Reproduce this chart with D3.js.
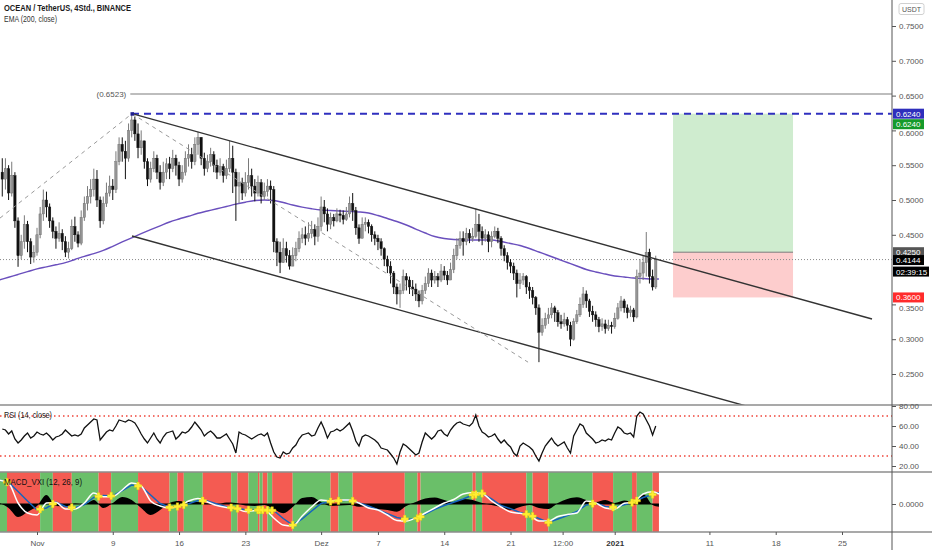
<!DOCTYPE html>
<html><head><meta charset="utf-8">
<script src="https://cdn.jsdelivr.net/npm/d3@7"></script>
<style>
html,body{margin:0;padding:0;background:#fff;}
svg{display:block;font-family:"Liberation Sans",Arial,sans-serif;}
</style></head><body>
<svg id="c" width="932" height="550"></svg>
<script>
// ---------- DATA ----------
// 8h candles starting 2020-10-28 08:00 UTC
const firstOpen = 0.540;
const closes = [
.530,.545,.510,.535,.470,.420,.440,.465,.440,.418,
.425,.450,.480,.500,.490,.470,.455,.445,.452,.440,
.425,.430,.462,.450,.438,.475,.495,.505,.515,.530,
.500,.470,.495,.510,.520,.515,.555,.580,.570,.560,
.600,.615,.595,.575,.585,.555,.530,.545,.560,.540,
.525,.540,.552,.545,.560,.550,.530,.540,.560,.565,
.555,.580,.590,.560,.545,.555,.565,.550,.540,.548,
.535,.545,.560,.540,.520,.525,.510,.525,.535,.520,
.510,.525,.505,.512,.520,.515,.440,.425,.410,.430,
.420,.405,.420,.430,.445,.450,.445,.452,.458,.448,
.462,.490,.480,.465,.475,.470,.480,.478,.472,.480,
.495,.485,.460,.445,.465,.468,.462,.450,.445,.440,
.430,.415,.405,.395,.375,.365,.370,.390,.385,.375,
.372,.365,.355,.370,.380,.395,.385,.390,.385,.398,
.392,.385,.400,.420,.435,.445,.440,.452,.445,.448,
.465,.455,.445,.450,.440,.448,.455,.445,.430,.420,
.410,.405,.395,.380,.385,.390,.375,.370,.360,.345,
.310,.320,.330,.335,.345,.338,.325,.322,.328,.320,
.300,.325,.335,.350,.365,.355,.340,.335,.328,.318,
.322,.315,.320,.318,.330,.345,.355,.345,.338,.342,
.332,.390,.395,.410,.425,.390,.375,.4144];
const highs = [
.560,.560,.550,.555,.540,.475,.450,.478,.470,.445,
.435,.460,.490,.515,.512,.495,.475,.462,.468,.458,
.448,.440,.472,.476,.455,.485,.505,.520,.530,.545,
.543,.505,.505,.525,.535,.530,.570,.590,.590,.585,
.610,.624,.620,.610,.600,.585,.560,.555,.570,.565,
.550,.555,.560,.562,.572,.565,.555,.550,.570,.580,
.575,.590,.598,.590,.568,.565,.575,.570,.558,.560,
.552,.558,.585,.578,.545,.540,.532,.540,.560,.545,
.530,.535,.530,.525,.530,.528,.520,.445,.440,.445,
.440,.428,.432,.440,.455,.460,.462,.468,.470,.465,
.475,.505,.500,.488,.482,.480,.488,.486,.485,.490,
.505,.510,.490,.465,.475,.475,.472,.465,.455,.450,
.445,.432,.420,.412,.398,.380,.380,.400,.395,.390,
.385,.380,.370,.378,.390,.402,.400,.398,.395,.408,
.405,.398,.410,.430,.445,.455,.455,.460,.458,.460,
.488,.480,.462,.458,.455,.455,.462,.460,.448,.435,
.425,.415,.410,.400,.395,.395,.392,.382,.375,.362,
.350,.330,.338,.345,.352,.348,.342,.335,.338,.332,
.325,.330,.342,.360,.375,.370,.358,.348,.340,.332,
.330,.328,.328,.325,.338,.352,.362,.358,.350,.348,
.345,.400,.415,.420,.454,.430,.400,.420];
const lows = [
.505,.515,.500,.505,.460,.404,.415,.430,.425,.408,
.410,.420,.445,.470,.475,.460,.445,.430,.440,.428,
.418,.416,.428,.440,.432,.435,.470,.485,.495,.505,
.490,.460,.465,.490,.505,.500,.510,.550,.555,.530,
.555,.590,.585,.560,.565,.545,.520,.525,.540,.530,
.515,.520,.530,.530,.540,.535,.520,.525,.535,.548,
.545,.550,.565,.550,.535,.540,.548,.540,.530,.535,
.525,.530,.540,.510,.470,.495,.500,.505,.515,.505,
.498,.505,.495,.500,.505,.495,.425,.405,.395,.410,
.410,.400,.405,.412,.425,.438,.435,.440,.445,.435,
.440,.455,.468,.455,.458,.462,.468,.468,.465,.470,
.475,.470,.450,.437,.445,.455,.452,.440,.435,.428,
.420,.405,.395,.380,.365,.350,.345,.365,.370,.365,
.362,.355,.346,.350,.365,.375,.375,.380,.375,.382,
.385,.378,.385,.395,.415,.430,.420,.435,.438,.440,
.445,.440,.435,.440,.425,.432,.445,.438,.420,.412,
.400,.395,.385,.360,.372,.378,.365,.358,.350,.335,
.267,.305,.315,.322,.330,.325,.318,.315,.318,.312,
.290,.298,.322,.332,.345,.345,.332,.325,.318,.310,
.312,.308,.312,.308,.315,.328,.340,.338,.330,.332,
.325,.330,.380,.385,.390,.380,.370,.372];
// RSI(14) per candle
const rsi = [
57,56,52,55,47,43,46,50,53,48,
50,54,52,51,53,50,46,49,50,52,
56,53,50,51,50,52,58,61,64,67,
66,46,50,54,56,55,60,66,65,64,
66,65,63,58,52,47,43,48,53,47,
43,49,53,54,55,47,50,54,53,55,
59,64,60,56,50,53,55,52,48,48,
50,52,47,42,33,54,52,51,49,47,
49,51,52,50,53,43,34,29,28,34,
32,33,38,41,47,51,52,53,50,51,
58,64,57,48,54,55,57,55,57,60,
63,55,45,40,49,51,50,48,46,43,
38,37,36,32,28,22,34,42,40,37,
34,31,33,44,53,50,47,50,55,56,
52,50,56,60,63,64,62,61,60,63,
71,60,54,52,49,50,52,47,43,46,
42,39,33,30,40,43,41,39,36,30,
25,33,40,44,48,43,40,42,44,38,
33,50,56,62,60,53,50,47,43,44,
46,45,47,46,53,59,57,53,52,53,
49,70,74,72,66,60,51,60];
// daily samples (days from 2020-11-01): -4 .. 65, then 65.67
const dayOffsets = d3.range(-4, 66).concat([65.67]);
const ema200 = [
.385,.389,.393,.397,.401,.404,.407,.410,.4145,.419,
.423,.4275,.4335,.4397,.4457,.4516,.4573,.4629,.4684,.4727,
.4767,.4809,.4842,.4875,.4907,.494,.4968,.4993,.500,.4993,
.4964,.4928,.4897,.4874,.4856,.4849,.4842,.4835,.4828,.4813,
.4777,.4734,.4691,.4641,.4583,.4526,.4475,.4447,.4432,.4425,
.4425,.4425,.4425,.4404,.4375,.4346,.4303,.4253,.4203,.4152,
.4102,.4052,.4001,.3966,.3937,.3908,.3894,.3879,.3872,.3865,.3865];
// MACD_VXI values (x 1e-3)
const macdLine = [
24,21,1,-9,-11,1,1.5,-5,-5,1,
11,7.3,7.5,14,21,18,3,-2,-4,-2,
3,5.5,2,-1.5,-3.5,-4.5,-7.5,-6.5,-6,-14,
-21,-22,-12,-3,4,3,4,4,1,-4,
-6,-11,-16.5,-17,-14,-9,-4,1,4.5,10,
11.3,10.5,3,-3,-8,-9.3,-11,-17,-17,-12.5,
-10.5,-9,3,1,-4,-5,0.7,2,10,12.3,10];
const signalLine = [
24,21.5,12.5,3,-6,-4,2,-2.5,-4,-0.5,
6.5,8.5,8,13.5,19,17.5,9,0.5,-3.3,-2.3,
0.3,3.5,3,0,-2.8,-4.3,-5.8,-6,-6,-6.5,
-14.5,-21,-15,-7,0.5,2.4,3.3,4,1,-2,
-5.8,-9.6,-13.5,-15.3,-15.3,-10,-5.3,-1.5,1.8,5,
9,10.5,5,-1.5,-4.6,-8.5,-11,-14.5,-18.5,-15,
-11.5,-7.5,-1,1,-2.5,-3.5,-0.8,1.8,6.5,9.5,11.3];
const histogram = [
1,-4,-13,-8,-2,9,-2,-2.5,0.5,-0.5,
4,-4,1,7,4,-4,-11,-6,1,3,
2,2,0.5,-0.5,1.5,1,-1.5,-2,-1,-5,
-9.3,-3,6,7,2,-2,-1.5,-1,-2.7,-2.5,
-5,-6,-7.7,-2,2,5.5,6.5,4,2,5,
4,1,-1,-3,-6,-3,-1,-4,-5,1,
5,6.7,4,2,4,1,3.5,2,10,-1,-2.7];
// MACD background regimes (edges in days from 2020-11-01)
const bandEdges = [-4.2,-3.17,0.33,1.67,3.67,6.5,7.83,10.67,14.0,14.83,15.5,17.5,20.5,21.17,22.33,23.33,23.5,23.83,24.33,24.83,27.0,31.0,31.83,33.33,38.83,40.17,40.5,46.0,46.33,47.0,51.67,52.33,54.0,58.67,60.83,62.83,63.33,65.0,65.67];
const bandColors = "grgrgrgrgrgrgrgrgrgrgrgrgrgrgrgrgrgrgr".split("");
// drawings (days from 2020-11-01, price)
const channelUpper = [[10.03,0.624],[88.17,0.329]];
const channelLower = [[10.03,0.4483],[88.17,0.154]];
const fibDashA = [[-3.91,0.474],[10.03,0.624]];
const fibDashB = [[10.03,0.624],[51.85,0.267]];
const targetLevel = 0.624, highLevel = 0.6523, lastPrice = 0.4144;
const entry = 0.425, stop = 0.360, boxDays = [67.16, 79.83];
// axis ticks
const priceTicks = [0.25,0.30,0.35,0.45,0.50,0.55,0.60,0.65,0.70,0.75];
const rsiTicks = [20,40,60,80];
const timeTickDays = [0,8,15,22,30,36,43,50,55.5,61,71,78,85];
const timeTickLabels = ["Nov","9","16","23","Dez","7","14","21","12:00","2021","11","18","25"];

// ---------- SCALES ----------
const DAY = 86400000, T0 = Date.UTC(2020,10,1);
const dd = d => new Date(T0 + d*DAY);
const x = d3.scaleUtc().domain([dd(0), dd(85)]).range([37, 842]);
const STEP = 8*3600000, C0 = Date.UTC(2020,9,28,8);
const cx = i => x(new Date(C0 + i*STEP));
const y = d3.scaleLinear().domain([0.25,0.75]).range([374,26]);
const yr = d3.scaleLinear().domain([0,100]).range([486,386]);
const ym = d3.scaleLinear().domain([-28,32]).range([532,472]);
const AX = 892;

const svg = d3.select("#c");
const defs = svg.append("defs");
function clip(id, y0, h){ defs.append("clipPath").attr("id",id).append("rect").attr("x",0).attr("y",y0).attr("width",AX).attr("height",h); }
clip("cm",0,405); clip("cr",405,67); clip("cd",472,60);

// ---------- MAIN PANE ----------
const gm = svg.append("g").attr("clip-path","url(#cm)");
gm.append("rect").attr("x",x(dd(boxDays[0]))).attr("width",x(dd(boxDays[1]))-x(dd(boxDays[0])))
  .attr("y",y(targetLevel)).attr("height",y(entry)-y(targetLevel)).attr("fill","#cfeccf");
gm.append("rect").attr("x",x(dd(boxDays[0]))).attr("width",x(dd(boxDays[1]))-x(dd(boxDays[0])))
  .attr("y",y(entry)).attr("height",y(stop)-y(entry)).attr("fill","#fdcdcd");
gm.append("line").attr("x1",x(dd(boxDays[0]))).attr("x2",x(dd(boxDays[1])))
  .attr("y1",y(entry)).attr("y2",y(entry)).attr("stroke","#7a7a7a").attr("stroke-width",1);
gm.append("line").attr("x1",x(dd(9.85))).attr("x2",AX).attr("y1",y(highLevel)).attr("y2",y(highLevel))
  .attr("stroke","#7d7d7d").attr("stroke-width",1.2);
gm.append("text").attr("x",x(dd(9.85))-4).attr("y",y(highLevel)+3).attr("text-anchor","end")
  .attr("font-size",8).attr("fill","#555").text("(" + highLevel.toFixed(4) + ")");
gm.append("line").attr("x1",0).attr("x2",AX).attr("y1",y(lastPrice)).attr("y2",y(lastPrice))
  .attr("stroke","#8a8a8a").attr("stroke-width",1).attr("stroke-dasharray","1,2");
gm.append("line").attr("x1",x(dd(10.03))).attr("x2",AX).attr("y1",y(targetLevel)).attr("y2",y(targetLevel))
  .attr("stroke","#2f2fbf").attr("stroke-width",2).attr("stroke-dasharray","7,5");
gm.append("path").datum(d3.zip(dayOffsets, ema200))
  .attr("d", d3.line().x(d=>x(dd(d[0]))).y(d=>y(d[1])).curve(d3.curveMonotoneX))
  .attr("fill","none").attr("stroke","#6a4fbd").attr("stroke-width",1.4);
const cg = gm.append("g");
closes.forEach((c,i)=>{
  const o = i===0 ? firstOpen : closes[i-1];
  const up = c >= o;
  const xi = cx(i);
  cg.append("line").attr("x1",xi).attr("x2",xi).attr("y1",y(highs[i])).attr("y2",y(lows[i]))
    .attr("stroke", up ? "#7a7a7a" : "#111").attr("stroke-width",1);
  const yt = Math.min(y(o),y(c)), h = Math.max(1, Math.abs(y(o)-y(c)));
  cg.append("rect").attr("x",xi-1.2).attr("width",2.4).attr("y",yt).attr("height",h)
    .attr("fill", up ? "#959595" : "#111").attr("stroke", up ? "#666":"#111").attr("stroke-width",0.4);
});
const dl = d3.line().x(d=>x(dd(d[0]))).y(d=>y(d[1]));
[channelUpper, channelLower].forEach(L=>{
  gm.append("path").datum(L).attr("d",dl).attr("fill","none").attr("stroke","#333").attr("stroke-width",1.4);
});
[fibDashA, fibDashB].forEach(L=>{
  gm.append("path").datum(L).attr("d",dl).attr("fill","none").attr("stroke","#9a9a9a")
    .attr("stroke-width",1).attr("stroke-dasharray","4,4");
});
gm.append("rect").attr("x",x(dd(10.03))-1.5).attr("y",y(targetLevel)-1.5).attr("width",3.5).attr("height",3.5).attr("fill","#1f1f8f");

// ---------- RSI PANE ----------
const gr = svg.append("g").attr("clip-path","url(#cr)");
[70,30].forEach(v=>{
  gr.append("line").attr("x1",0).attr("x2",AX).attr("y1",yr(v)).attr("y2",yr(v))
    .attr("stroke","#f0443a").attr("stroke-width",1.3).attr("stroke-dasharray","1.5,3");
});
gr.append("path").datum(rsi).attr("d", d3.line().x((d,i)=>cx(i)).y(d=>yr(d)))
  .attr("fill","none").attr("stroke","#111").attr("stroke-width",1.3);
svg.append("text").attr("x",4).attr("y",418).attr("font-size",8.5).attr("fill","#222")
  .attr("textLength",48).attr("lengthAdjust","spacingAndGlyphs").text("RSI (14, close)");

// ---------- MACD PANE ----------
const gd = svg.append("g").attr("clip-path","url(#cd)");
bandColors.forEach((c,k)=>{
  const x0 = x(dd(bandEdges[k])), x1 = x(dd(bandEdges[k+1]));
  gd.append("rect").attr("x",x0).attr("width",Math.max(0.5,x1-x0)).attr("y",472).attr("height",60)
    .attr("fill", c==="g" ? "#6abf69" : "#f45b52");
});
gd.append("path").datum(d3.zip(dayOffsets, histogram))
  .attr("d", d3.area().x(d=>x(dd(d[0]))).y0(ym(0)).y1(d=>ym(d[1])).curve(d3.curveMonotoneX))
  .attr("fill","#000");
gd.append("line").attr("x1",0).attr("x2",x(dd(65.67))).attr("y1",ym(0)).attr("y2",ym(0)).attr("stroke","#000").attr("stroke-width",1.2);
gd.append("path").datum(d3.zip(dayOffsets, signalLine))
  .attr("d", d3.line().x(d=>x(dd(d[0]))).y(d=>ym(d[1])))
  .attr("fill","none").attr("stroke","#1565c0").attr("stroke-width",1.5);
gd.append("path").datum(d3.zip(dayOffsets, macdLine))
  .attr("d", d3.line().x(d=>x(dd(d[0]))).y(d=>ym(d[1])).curve(d3.curveMonotoneX))
  .attr("fill","none").attr("stroke","#fff").attr("stroke-width",1.5);
const sigAt = d3.scaleLinear().domain(dayOffsets).range(signalLine);
const sym = d3.symbol().type(d3.symbolCross).size(30);
bandEdges.slice(1,-1).forEach(e=>{
  gd.append("path").attr("d",sym).attr("transform",`translate(${x(dd(e))},${ym(sigAt(e))})`)
    .attr("fill","#ffee33").attr("stroke","#e8d000").attr("stroke-width",0.4);
});
svg.append("text").attr("x",4).attr("y",485).attr("font-size",8.5).attr("fill","#111")
  .attr("textLength",78).attr("lengthAdjust","spacingAndGlyphs").text("MACD_VXI (12, 26, 9)");

// ---------- HEADERS ----------
svg.append("text").attr("x",4).attr("y",11).attr("font-size",9.5).attr("font-weight","bold").attr("fill","#1a1a1a")
  .attr("textLength",127).attr("lengthAdjust","spacingAndGlyphs").text("OCEAN / TetherUS, 4Std., BINANCE");
svg.append("text").attr("x",4).attr("y",22).attr("font-size",9).attr("fill","#333")
  .attr("textLength",53).attr("lengthAdjust","spacingAndGlyphs").text("EMA (200, close)");

// ---------- SEPARATORS & AXES ----------
[405,472,532].forEach(v=>{
  svg.append("line").attr("x1",0).attr("x2",932).attr("y1",v).attr("y2",v).attr("stroke","#8c8c8c").attr("stroke-width",1.6);
});
svg.append("line").attr("x1",AX).attr("x2",AX).attr("y1",0).attr("y2",550).attr("stroke","#555").attr("stroke-width",1);

function styleAxis(g){
  g.select(".domain").remove();
  g.selectAll(".tick line").attr("stroke","#555");
  g.selectAll(".tick text").attr("fill","#555").attr("font-size",8).attr("font-family","Liberation Sans, Arial, sans-serif");
}
const pa = svg.append("g").attr("transform",`translate(${AX},0)`)
  .call(d3.axisRight(y).tickValues(priceTicks).tickFormat(d3.format(".4f")).tickSize(4).tickPadding(3)).call(styleAxis);
// labels partly hidden under the price tags: shift them just below the tags
pa.selectAll(".tick text").filter(d=>d===0.60).attr("dy","0.62em");
pa.selectAll(".tick text").filter(d=>d===0.35).attr("dy","0.75em");
svg.append("g").attr("transform",`translate(${AX},0)`)
  .call(d3.axisRight(yr).tickValues(rsiTicks).tickFormat(d3.format(".2f")).tickSize(4).tickPadding(3)).call(styleAxis);
svg.append("g").attr("transform",`translate(${AX},0)`)
  .call(d3.axisRight(ym).tickValues([0]).tickFormat(d3.format(".4f")).tickSize(4).tickPadding(3)).call(styleAxis);
const xa = svg.append("g").attr("transform","translate(0,532)")
  .call(d3.axisBottom(x).tickValues(timeTickDays.map(dd)).tickFormat((d,i)=>timeTickLabels[i]).tickSize(3).tickPadding(5)).call(styleAxis);
xa.selectAll(".tick text").filter((d,i)=>timeTickLabels[i]==="2021").attr("font-weight","bold").attr("fill","#333");

svg.append("rect").attr("x",899).attr("y",3.5).attr("width",25).attr("height",11).attr("rx",2)
  .attr("fill","#fff").attr("stroke","#d0d0d0");
svg.append("text").attr("x",911.5).attr("y",12).attr("text-anchor","middle").attr("font-size",7).attr("fill","#555").text("USDT");

function plabel(yc, txt, bg, w){
  svg.append("rect").attr("x",AX+1).attr("y",yc-5).attr("width",w||31).attr("height",10).attr("fill",bg);
  svg.append("text").attr("x",AX+4).attr("y",yc+3).attr("font-size",8).attr("fill","#fff").text(txt);
}
plabel(y(targetLevel), targetLevel.toFixed(4), "#2e2ebc");
plabel(y(targetLevel)+10.5, targetLevel.toFixed(4), "#159a2a");
plabel(y(entry), entry.toFixed(4), "#555");
plabel(y(lastPrice)+0.5, lastPrice.toFixed(4), "#000");
plabel(y(lastPrice)+12, "02:39:15", "#000", 36);
plabel(y(stop), stop.toFixed(4), "#ff2b2b");
</script></body></html>
